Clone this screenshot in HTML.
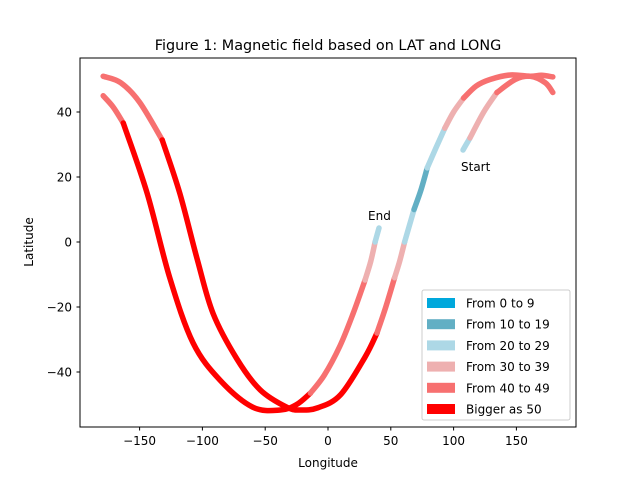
<!DOCTYPE html>
<html><head><meta charset="utf-8"><style>
body{margin:0;background:#fff}
svg text{font-family:"DejaVu Sans","Liberation Sans",sans-serif;fill:#000}
</style></head><body>
<svg id="chart" width="640" height="480" xmlns="http://www.w3.org/2000/svg">
<rect width="640" height="480" fill="#fff"/>
<text x="328" y="50" font-size="14.4" text-anchor="middle">Figure 1: Magnetic field based on LAT and LONG</text>
<g id="marks"></g>
<rect x="80" y="58" width="496" height="369" fill="none" stroke="#000" stroke-width="1"/>
<g id="ticks"></g>
<text x="328" y="467" font-size="12" text-anchor="middle">Longitude</text>
<text transform="translate(33,242) rotate(-90)" font-size="12" text-anchor="middle">Latitude</text>
<text x="461" y="171" font-size="12">Start</text>
<text x="368" y="220" font-size="12">End</text>
<g id="legend"></g>
</svg>
<script>
const categories = ["From 0 to 9","From 10 to 19","From 20 to 29","From 30 to 39","From 40 to 49","Bigger as 50"];
const colors = ["#00a8dc","#62afc4","#add8e6","#eeb0b0","#f77070","#ff0000"];
const xTicks = [-150,-100,-50,0,50,100,150];
const yTicks = [-40,-20,0,20,40];
const pathsLon = [
 [107.5,110,113],
 [113,124,134.5],
 [134.5,149,161,173,179],
 [-179,-171,-163],
 [-163,-144,-126,-107.5,-86,-60,-38,-25,-14],
 [-14,-3,9.5,20,29.5],
 [29.5,34,37.5],
 [37.5,40.6],
 [-179,-165,-150,-132],
 [-132,-118,-104,-91.5,-72.5,-54,-33,-22,-8,10,29.5,39],
 [39,46,53],
 [53,57,61],
 [61,68.5],
 [68.5,74,79],
 [79,86,93],
 [93,100,108],
 [108,118,129,145,161,170,179]
];
const pathsLat = [
 [28.3,30,32],
 [32,40,46],
 [46,50,51,49,46],
 [45,41.5,36.6],
 [36.6,15,-11,-31,-42.5,-50.8,-51.7,-50,-46.5],
 [-46.5,-41,-32,-22,-11.7],
 [-11.7,-6,0],
 [0,4.3],
 [51,49,43,31.4],
 [31.4,15,-5.5,-22,-36,-45.5,-50.8,-51.7,-51,-47,-35.4,-28],
 [-28,-20,-11],
 [-11,-6,0],
 [0,10],
 [10,16,22.8],
 [22.8,29,35],
 [35,40,44.3],
 [44.3,48,50,51.4,51,51.3,50.8]
];
const pathsCat = [2,3,4,4,5,4,3,2,4,5,4,3,2,1,2,3,4];
const X = v => 328 + v*1.256;
const Y = v => 242 - v*3.25;
const NS="http://www.w3.org/2000/svg";
function smooth(pts){
  if(pts.length<3) return 'M'+pts.map(p=>p.join(',')).join(' L');
  let d='M'+pts[0][0]+','+pts[0][1];
  for(let i=0;i<pts.length-1;i++){
    const p0=pts[Math.max(0,i-1)],p1=pts[i],p2=pts[i+1],p3=pts[Math.min(pts.length-1,i+2)];
    const c1=[p1[0]+(p2[0]-p0[0])/6,p1[1]+(p2[1]-p0[1])/6];
    const c2=[p2[0]-(p3[0]-p1[0])/6,p2[1]-(p3[1]-p1[1])/6];
    d+=' C'+c1.join(',')+' '+c2.join(',')+' '+p2.join(',');
  }
  return d;
}
const marks=document.getElementById('marks');
pathsCat.forEach((c,i)=>{
  const p=document.createElementNS(NS,'path');
  p.setAttribute('d',smooth(pathsLon[i].map((v,j)=>[X(v),Y(pathsLat[i][j])])));
  p.setAttribute('fill','none');
  p.setAttribute('stroke',colors[c]);
  p.setAttribute('stroke-width','5.5');
  p.setAttribute('stroke-linecap','round');
  p.setAttribute('stroke-linejoin','round');
  
  
  marks.appendChild(p);
});
const tk=document.getElementById('ticks');
xTicks.forEach(v=>{
  const l=document.createElementNS(NS,'line');
  l.setAttribute('x1',X(v));l.setAttribute('x2',X(v));l.setAttribute('y1',427);l.setAttribute('y2',430.5);l.setAttribute('stroke','#000');
  
  
  tk.appendChild(l);
  const t=document.createElementNS(NS,'text');
  t.setAttribute('x',X(v));t.setAttribute('y',445);t.setAttribute('font-size','12');t.setAttribute('text-anchor','middle');
  t.textContent=v<0?'\u2212'+(-v):String(v);
  
  
  tk.appendChild(t);
});
yTicks.forEach(v=>{
  const l=document.createElementNS(NS,'line');
  l.setAttribute('x1',76.5);l.setAttribute('x2',80);l.setAttribute('y1',Y(v));l.setAttribute('y2',Y(v));l.setAttribute('stroke','#000');
  
  
  tk.appendChild(l);
  const t=document.createElementNS(NS,'text');
  t.setAttribute('x',72);t.setAttribute('y',Y(v)+4.5);t.setAttribute('font-size','12');t.setAttribute('text-anchor','end');
  t.textContent=v<0?'\u2212'+(-v):String(v);
  
  
  tk.appendChild(t);
});
const lg=document.getElementById('legend');
const box=document.createElementNS(NS,'rect');
box.setAttribute('x',422);box.setAttribute('y',290);box.setAttribute('width',148);box.setAttribute('height',130);box.setAttribute('rx',2);
box.setAttribute('fill','#fff');box.setAttribute('fill-opacity','0.8');box.setAttribute('stroke','#ccc');


lg.appendChild(box);
categories.forEach((c,i)=>{
  const y=302+i*21.2;
  const r=document.createElementNS(NS,'rect');
  r.setAttribute('x',427);r.setAttribute('y',y-4);r.setAttribute('width',28);r.setAttribute('height',10);r.setAttribute('fill',colors[i]);
  
  
  lg.appendChild(r);
  const t=document.createElementNS(NS,'text');
  t.setAttribute('x',466);t.setAttribute('y',y+5.5);t.setAttribute('font-size','12');t.textContent=c;
  
  
  lg.appendChild(t);
});
</script>
</body></html>
